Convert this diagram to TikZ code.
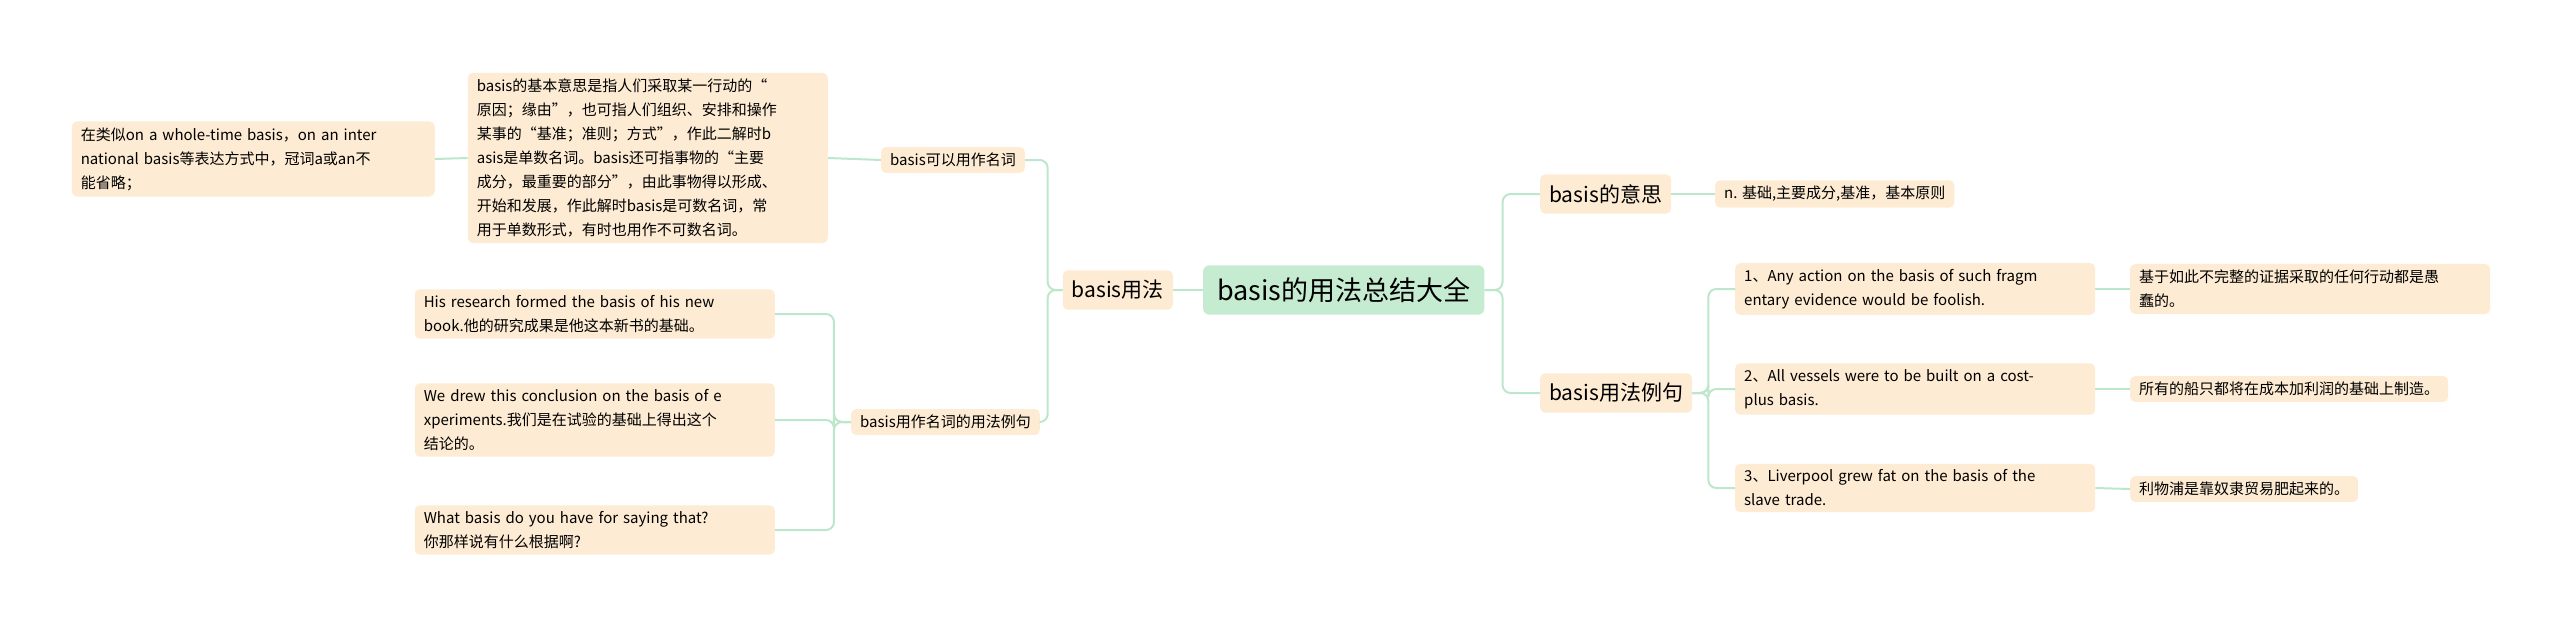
\documentclass[tikz,border=0pt]{standalone}
\usepackage{fontspec}
\setmainfont{Noto Sans CJK SC}
\begin{document}
\begin{tikzpicture}[x=1pt,y=-1pt,
  box/.style={fill=boxc,rounded corners=5pt,inner xsep=9pt,inner ysep=6pt,align=left,anchor=west,font=\fontsize{15}{24}\selectfont},
  root/.style={fill=rootc,rounded corners=6pt,inner xsep=14pt,inner ysep=12pt,anchor=west,font=\fontsize{27}{32}\selectfont},
  mid/.style={box,font=\fontsize{21}{26}\selectfont,inner ysep=10pt},
  conn/.style={draw=linec,line width=2pt,rounded corners=8pt}]
\definecolor{boxc}{HTML}{FDEBD3}
\definecolor{rootc}{HTML}{C5EBD0}
\definecolor{linec}{HTML}{BDE7CB}
\useasboundingbox (0,0) rectangle (2560,635);
\node[root] (r) at (1203,290) {basis的用法总结大全};
\node[mid] (m1) at (1540,194) {basis的意思};
\node[box] (m1a) at (1715,194) {n. 基础,主要成分,基准，基本原则};
\node[mid] (m2) at (1540,393) {basis用法例句};
\node[box,text width=342pt] (e1) at (1735,289) {1、Any action on the basis of such fragm\\entary evidence would be foolish.};
\node[box,text width=342pt] (e2) at (1735,389) {2、All vessels were to be built on a cost-\\plus basis.};
\node[box,text width=342pt] (e3) at (1735,488) {3、Liverpool grew fat on the basis of the\\slave trade.};
\node[box,text width=342pt] (t1) at (2130,289) {基于如此不完整的证据采取的任何行动都是愚\\蠢的。};
\node[box] (t2) at (2130,389) {所有的船只都将在成本加利润的基础上制造。};
\node[box] (t3) at (2130,489) {利物浦是靠奴隶贸易肥起来的。};
\node[mid,anchor=east] (l1) at (1173,290) {basis用法};
\node[box,anchor=east] (l2) at (1025,160) {basis可以用作名词};
\node[box,anchor=east,text width=342pt] (l2a) at (828,158) {basis的基本意思是指人们采取某一行动的“\\原因；缘由”，也可指人们组织、安排和操作\\某事的“基准；准则；方式”，作此二解时b\\asis是单数名词。basis还可指事物的“主要\\成分，最重要的部分”，由此事物得以形成、\\开始和发展，作此解时basis是可数名词，常\\用于单数形式，有时也用作不可数名词。};
\node[box,anchor=east,text width=345pt] (l2b) at (435,159) {在类似on a whole-time basis，on an inter\\national basis等表达方式中，冠词a或an不\\能省略；};
\node[box,anchor=east] (l3) at (1040,422) {basis用作名词的用法例句};
\node[box,anchor=east,text width=342pt] (x1) at (775,314) {His research formed the basis of his new\\book.他的研究成果是他这本新书的基础。};
\node[box,anchor=east,text width=342pt] (x2) at (775,420) {We drew this conclusion on the basis of e\\xperiments.我们是在试验的基础上得出这个\\结论的。};
\node[box,anchor=east,text width=342pt] (x3) at (775,530) {What basis do you have for saying that?\\你那样说有什么根据啊?};
\draw[conn] (r.east) -- ++(18,0) |- (m1.west);
\draw[conn] (r.east) -- ++(18,0) |- (m2.west);
\draw[conn] (m1.east) -- (m1a.west);
\foreach \e in {e1,e2,e3} \draw[conn] (m2.east) -- ++(16,0) |- (\e.west);
\draw[conn] (e1.east) -- (t1.west);
\draw[conn] (e2.east) -- (t2.west);
\draw[conn] (e3.east) -- (t3.west);
\draw[conn] (r.west) -- (l1.east);
\draw[conn] (l1.west) -- ++(-15,0) |- (l2.east);
\draw[conn] (l1.west) -- ++(-15,0) |- (l3.east);
\draw[conn] (l2.west) -- (l2a.east);
\draw[conn] (l2a.west) -- (l2b.east);
\foreach \e in {x1,x2,x3} \draw[conn] (l3.west) -- ++(-17,0) |- (\e.east);
\end{tikzpicture}
\end{document}
